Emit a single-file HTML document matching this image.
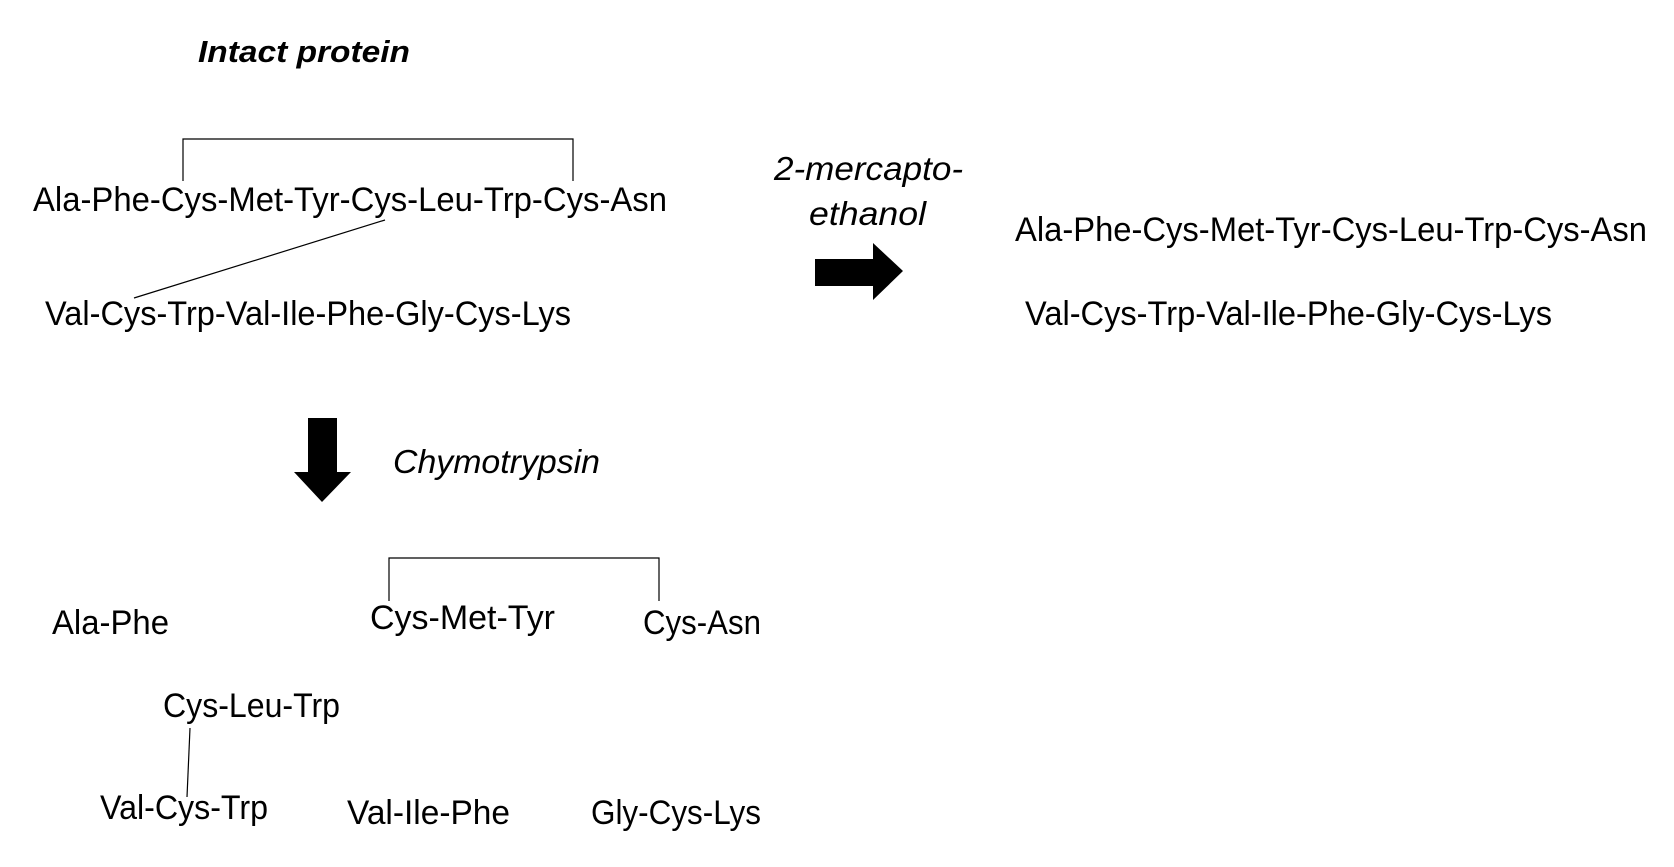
<!DOCTYPE html>
<html><head><meta charset="utf-8"><style>html,body{margin:0;padding:0;background:#fff}svg{display:block}</style></head>
<body>
<svg width="1674" height="867" viewBox="0 0 1674 867" xmlns="http://www.w3.org/2000/svg" font-family="Liberation Sans, sans-serif" font-size="34" fill="#000">
<g transform="translate(-3,-2)">
<text x="201" y="64" font-weight="bold" font-style="italic" font-size="31" textLength="212" lengthAdjust="spacingAndGlyphs">Intact protein</text>
<polyline points="186,183 186,141 576,141 576,183" fill="none" stroke="#000" stroke-width="1.2"/>
<text x="36" y="213" textLength="634" lengthAdjust="spacingAndGlyphs">Ala-Phe-Cys-Met-Tyr-Cys-Leu-Trp-Cys-Asn</text>
<line x1="388" y1="222" x2="137" y2="300" stroke="#000" stroke-width="1.2"/>
<text x="48" y="327" textLength="526" lengthAdjust="spacingAndGlyphs">Val-Cys-Trp-Val-Ile-Phe-Gly-Cys-Lys</text>
<text x="777" y="182" font-style="italic" font-size="33" textLength="189" lengthAdjust="spacingAndGlyphs">2-mercapto-</text>
<text x="812" y="227" font-style="italic" font-size="33" textLength="117" lengthAdjust="spacingAndGlyphs">ethanol</text>
<polygon points="818,261 876,261 876,245 906,273 876,302 876,288 818,288"/>
<text x="1018" y="243" textLength="632" lengthAdjust="spacingAndGlyphs">Ala-Phe-Cys-Met-Tyr-Cys-Leu-Trp-Cys-Asn</text>
<text x="1028" y="327" textLength="527" lengthAdjust="spacingAndGlyphs">Val-Cys-Trp-Val-Ile-Phe-Gly-Cys-Lys</text>
<polygon points="311,420 340,420 340,474 354,474 325,504 297,474 311,474"/>
<text x="396" y="475" font-style="italic" font-size="33" textLength="207" lengthAdjust="spacingAndGlyphs">Chymotrypsin</text>
<polyline points="392,603 392,560 662,560 662,603" fill="none" stroke="#000" stroke-width="1.2"/>
<text x="55" y="636" textLength="117" lengthAdjust="spacingAndGlyphs">Ala-Phe</text>
<text x="373" y="631" textLength="185" lengthAdjust="spacingAndGlyphs">Cys-Met-Tyr</text>
<text x="646" y="636" textLength="118" lengthAdjust="spacingAndGlyphs">Cys-Asn</text>
<text x="166" y="719" textLength="177" lengthAdjust="spacingAndGlyphs">Cys-Leu-Trp</text>
<line x1="193" y1="730" x2="190" y2="799" stroke="#000" stroke-width="1.2"/>
<text x="103" y="821" textLength="168" lengthAdjust="spacingAndGlyphs">Val-Cys-Trp</text>
<text x="350" y="826" textLength="163" lengthAdjust="spacingAndGlyphs">Val-Ile-Phe</text>
<text x="594" y="826" textLength="170" lengthAdjust="spacingAndGlyphs">Gly-Cys-Lys</text>
</g>
</svg>
</body></html>
